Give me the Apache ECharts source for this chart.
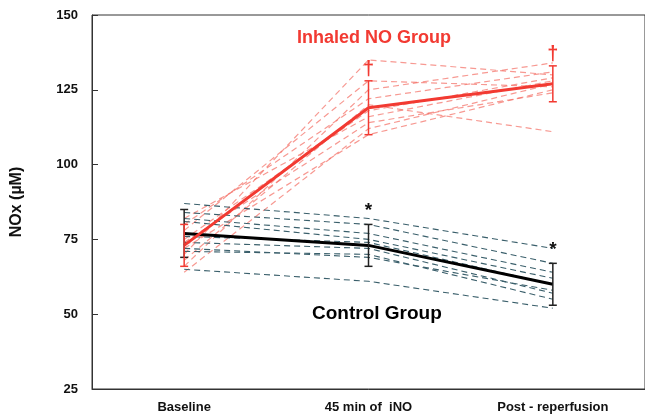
<!DOCTYPE html>
<html>
<head>
<meta charset="utf-8">
<script src="https://cdn.jsdelivr.net/npm/echarts@6/dist/echarts.min.js"></script>
<style>html,body{margin:0;padding:0;background:#fff}#c{width:645px;height:419px}</style>
</head>
<body>
<div id="c"></div>
<script>
const categories = ['Baseline', '45 min of  iNO', 'Post - reperfusion'];
const yTicks = [25, 50, 75, 100, 125, 150];
const inoMean = [73, 119, 127];
const inoSD = [7, 9, 6];
const ctrlMean = [77, 73, 60];
const ctrlSD = [8, 7, 7];
const inoSubjects = [
  [70, 135, 130],
  [66, 125, 134],
  [80, 122, 131],
  [75, 118, 129],
  [68, 120, 111],
  [72, 110, 125],
  [82, 116, 128],
  [64, 112, 127],
  [78, 128, 126],
  [74, 114, 124]
];
const ctrlSubjects = [
  [87, 82, 72],
  [84, 80, 67],
  [82, 77, 64],
  [81, 75, 62],
  [76, 74, 60],
  [74, 72, 57],
  [71, 70, 55],
  [65, 61, 52],
  [72, 69, 58]
];
const inoMarks = ['', '\u2020', '\u2020'];
const ctrlMarks = ['', '*', '*'];

const RED = '#f23a32';
const RED_LIGHT = 'rgba(244,110,100,0.7)';
const DARK = '#3a5f6b';
const FONT = '"Liberation Sans", Arial, sans-serif';

function errorSeries(mean, sd, marks, color, markColor, markSize, markOffset) {
  return {
    type: 'custom',
    z: 5,
    data: mean.map((m, i) => [i, m, sd[i]]),
    renderItem: function (params, api) {
      const x = api.value(0), m = api.value(1), s = api.value(2);
      const top = api.coord([x, m + s]);
      const bot = api.coord([x, m - s]);
      const w = 4;
      const st = { stroke: color, lineWidth: 1.5 };
      const children = [
        { type: 'line', shape: { x1: top[0], y1: top[1], x2: bot[0], y2: bot[1] }, style: st },
        { type: 'line', shape: { x1: top[0] - w, y1: top[1], x2: top[0] + w, y2: top[1] }, style: st },
        { type: 'line', shape: { x1: bot[0] - w, y1: bot[1], x2: bot[0] + w, y2: bot[1] }, style: st }
      ];
      const mk = marks[params.dataIndex];
      if (mk) {
        children.push({
          type: 'text',
          style: {
            x: top[0], y: top[1] - markOffset, text: mk, fill: markColor,
            font: 'bold ' + markSize + 'px ' + FONT, align: 'center', verticalAlign: 'middle'
          }
        });
      }
      return { type: 'group', children: children };
    }
  };
}

const series = [];
inoSubjects.forEach(d => series.push({
  type: 'line', data: d, symbol: 'none', silent: true, z: 2,
  lineStyle: { color: RED_LIGHT, width: 1.2, type: [6, 4] }
}));
ctrlSubjects.forEach(d => series.push({
  type: 'line', data: d, symbol: 'none', silent: true, z: 2,
  lineStyle: { color: DARK, width: 1.1, type: [6, 4] }
}));
series.push({ type: 'line', data: ctrlMean, symbol: 'none', z: 4, lineStyle: { color: '#000', width: 3 } });
series.push({ type: 'line', data: inoMean, symbol: 'none', z: 4, lineStyle: { color: RED, width: 3 } });
series.push(errorSeries(ctrlMean, ctrlSD, ctrlMarks, '#222', '#111', 19, 14));
series.push(errorSeries(inoMean, inoSD, inoMarks, RED, RED, 20, 11));

const chart = echarts.init(document.getElementById('c'));
chart.setOption({
  animation: false,
  backgroundColor: '#fff',
  title: [
    { text: 'Inhaled NO Group', left: 292, top: 24, textStyle: { color: RED, fontFamily: FONT, fontWeight: 'bold', fontSize: 18 } },
    { text: 'Control Group', left: 307, top: 299, textStyle: { color: '#000', fontFamily: FONT, fontWeight: 'bold', fontSize: 19 } }
  ],
  grid: { left: 92, right: -3, top: 15, bottom: 30, show: true, borderColor: '#333', borderWidth: 1 },
  xAxis: {
    type: 'category', data: categories, boundaryGap: true,
    axisLine: { lineStyle: { color: '#333', width: 1 } },
    axisTick: { alignWithLabel: true, inside: true, length: 6, lineStyle: { color: '#333' } },
    axisLabel: { color: '#111', fontFamily: FONT, fontWeight: 'bold', fontSize: 13, margin: 12 },
    splitLine: { show: false }
  },
  yAxis: {
    type: 'value', min: 25, max: 150, interval: 25,
    name: 'NOx (\u00b5M)', nameLocation: 'middle', nameGap: 67, nameRotate: 90,
    nameTextStyle: { color: '#111', fontFamily: FONT, fontWeight: 'bold', fontSize: 16 },
    axisLine: { show: true, lineStyle: { color: '#333', width: 1 } },
    axisTick: { show: true, inside: true, length: 6, lineStyle: { color: '#333' } },
    axisLabel: {
      color: '#111', fontFamily: FONT, fontWeight: 'bold', fontSize: 13, margin: 14,
      formatter: v => yTicks.includes(v) ? String(v) : ''
    },
    splitLine: { show: false }
  },
  series: series
});
</script>
</body>
</html>
